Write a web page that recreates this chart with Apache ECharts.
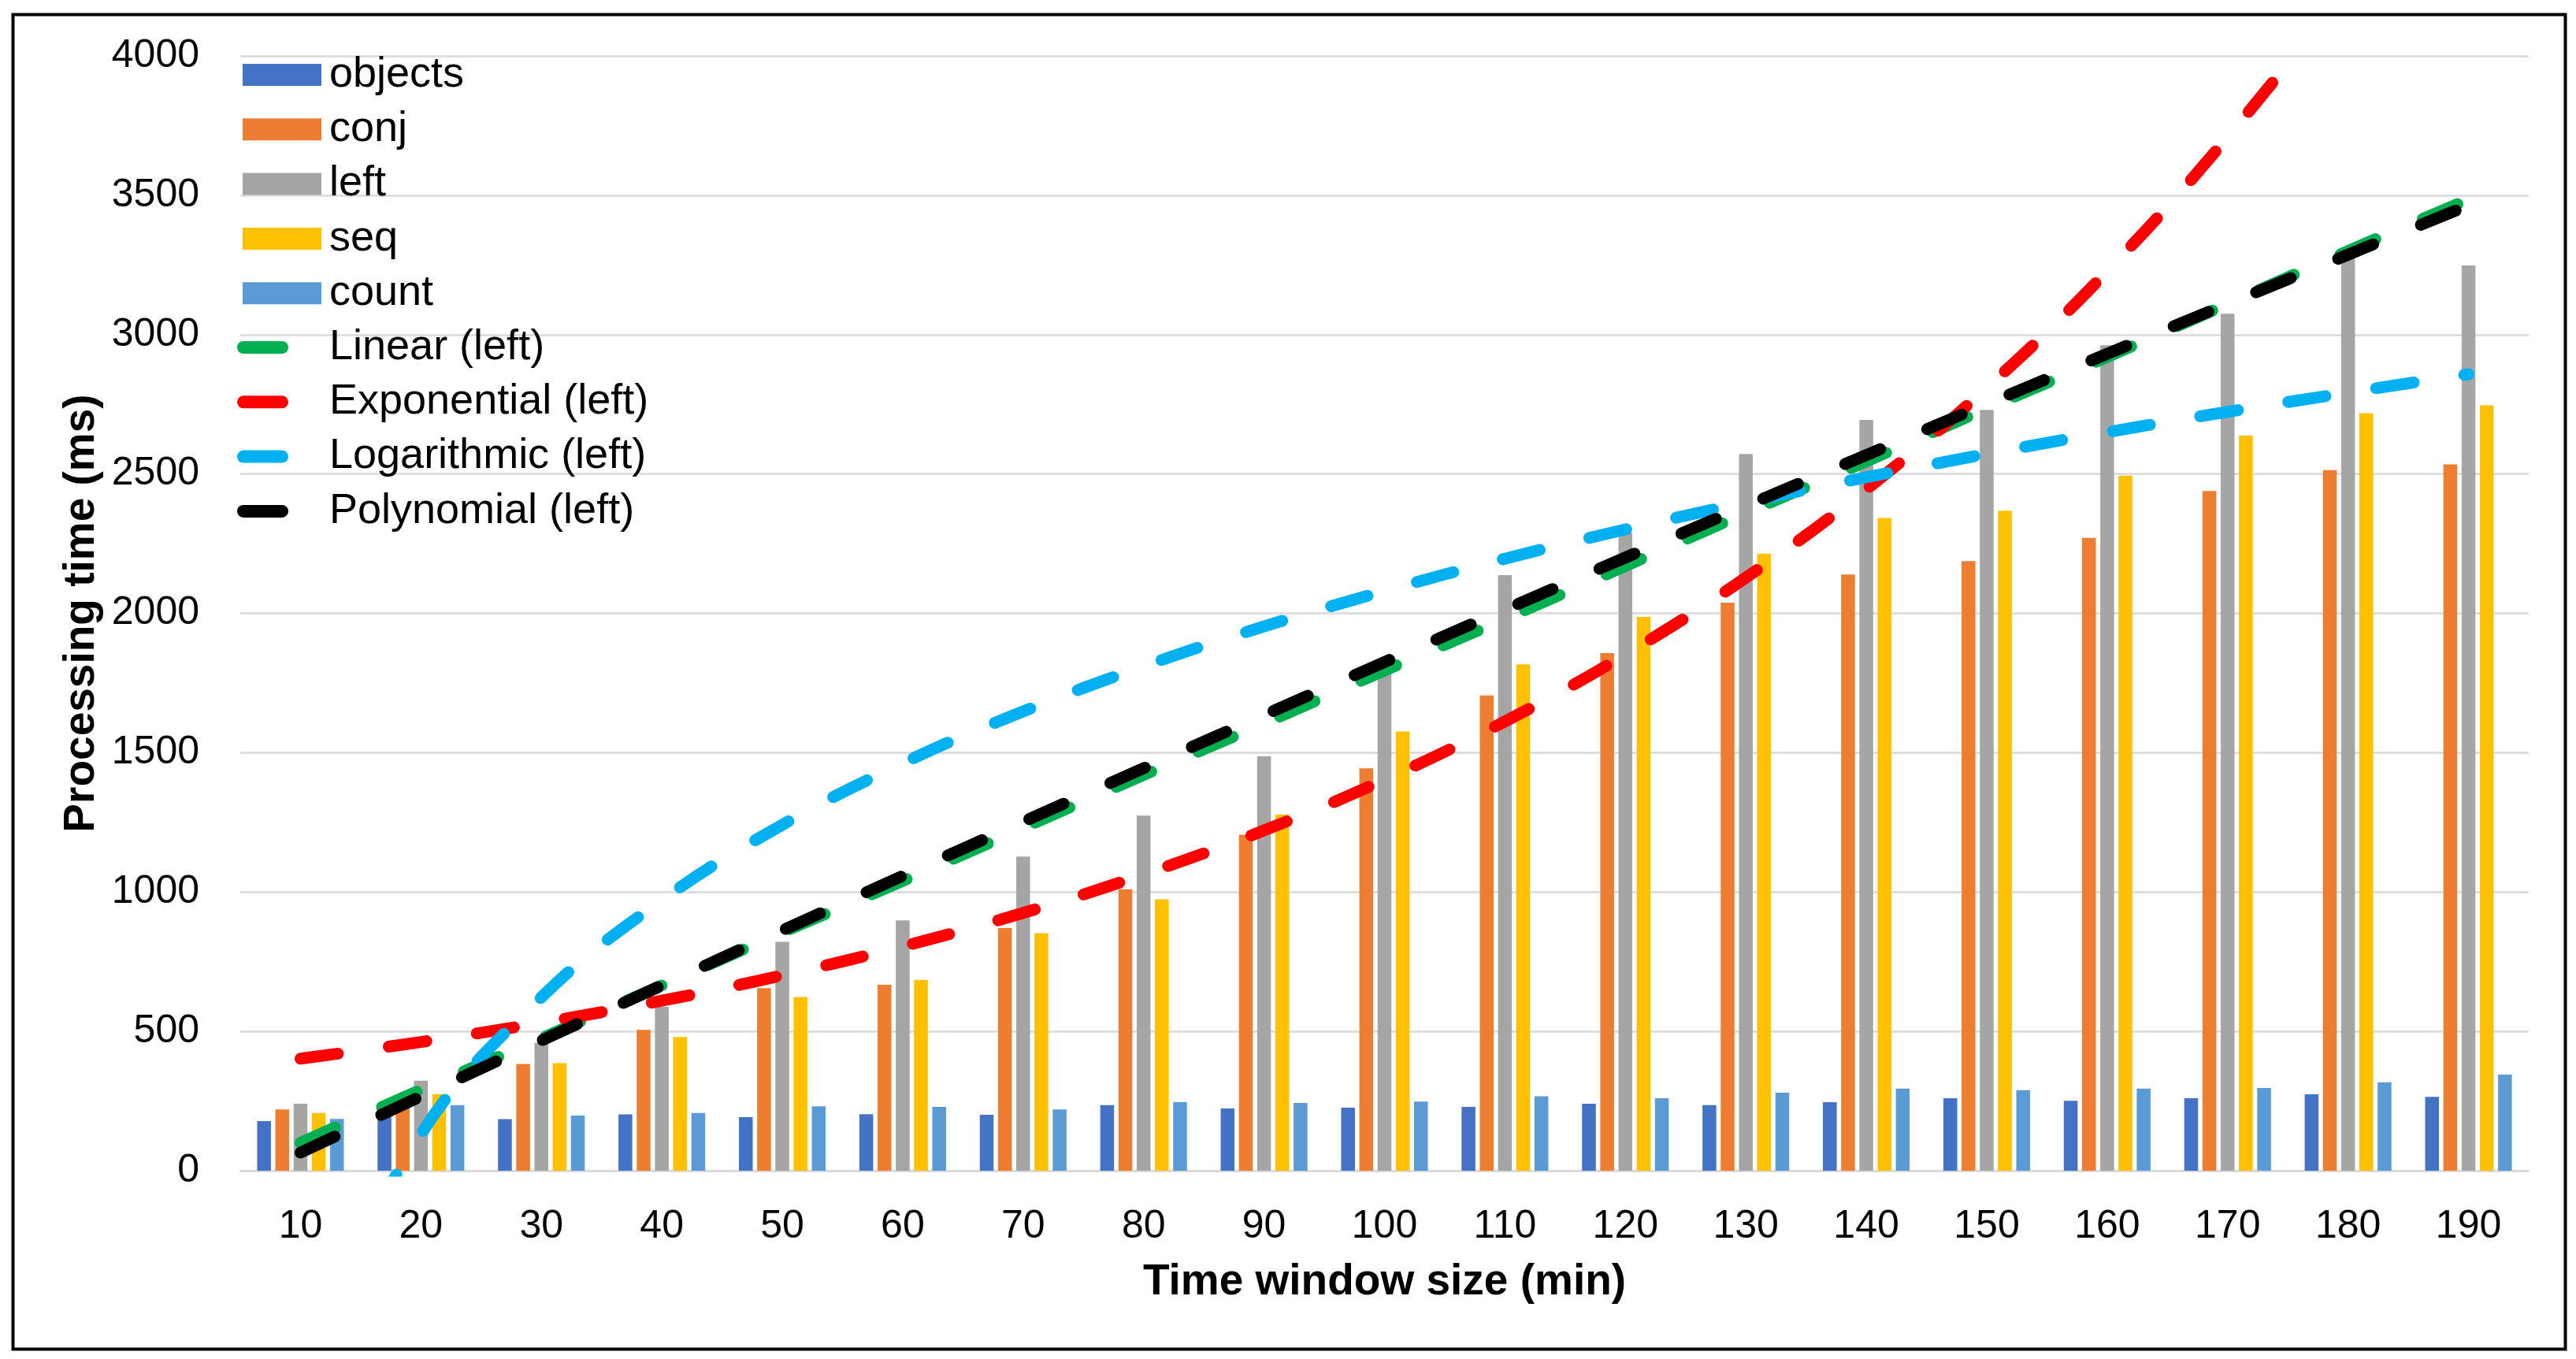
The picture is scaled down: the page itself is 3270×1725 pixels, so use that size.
<!DOCTYPE html>
<html>
<head>
<meta charset="utf-8">
<script src="https://cdn.jsdelivr.net/npm/echarts@6/dist/echarts.min.js"></script>
<style>
html,body{margin:0;padding:0;background:#fff;}
#chart{width:3270px;height:1725px;}
</style>
</head>
<body>
<div id="chart"></div>
<script>
const categories = ['10','20','30','40','50','60','70','80','90','100','110','120','130','140','150','160','170','180','190'];
const yTicks = [0, 500, 1000, 1500, 2000, 2500, 3000, 3500, 4000];

const objects = [178, 205, 185, 202, 192, 203, 201, 235, 223, 226, 229, 240, 235, 246, 260, 251, 260, 274, 265];
const conj    = [220, 245, 383, 505, 655, 667, 871, 1010, 1206, 1444, 1705, 1857, 2038, 2139, 2187, 2271, 2439, 2514, 2534];
const left    = [240, 323, 459, 588, 821, 898, 1127, 1274, 1487, 1785, 2137, 2290, 2572, 2694, 2730, 2962, 3075, 3304, 3248];
const seq     = [207, 275, 386, 480, 623, 685, 852, 974, 1278, 1576, 1817, 1987, 2214, 2342, 2368, 2494, 2638, 2718, 2746];
const count   = [186, 235, 198, 207, 231, 229, 220, 246, 243, 248, 267, 260, 280, 295, 289, 295, 297, 317, 345];

// trendlines of "left", values at each category
const linearLeft = [100, 290, 475, 665, 855, 1040, 1230, 1420, 1605, 1795, 1980, 2170, 2360, 2545, 2735, 2920, 3110, 3300, 3485];
const expLeft    = [402, 462, 531, 610, 701, 805, 925, 1063, 1221, 1403, 1612, 1852, 2128, 2445, 2809, 3228, 3709, 4261, 4895];
const logLeft    = [-708, 131, 622, 971, 1241, 1462, 1648, 1810, 1953, 2080, 2196, 2301, 2398, 2488, 2572, 2650, 2723, 2792, 2858];
const polyLeft   = [65, 267, 467, 665, 862, 1058, 1252, 1444, 1635, 1825, 2013, 2200, 2385, 2568, 2751, 2931, 3110, 3287, 3464];

const FONT = "'Liberation Sans', Arial, sans-serif";
const barColors = {objects:'#4472C4', conj:'#ED7D31', left:'#A5A5A5', seq:'#FFC000', count:'#5B9BD5'};
const lineColors = {'Linear (left)':'#00B050', 'Exponential (left)':'#FF0000', 'Logarithmic (left)':'#00B0F0', 'Polynomial (left)':'#000000'};

const chart = echarts.init(document.getElementById('chart'), null, {renderer:'canvas'});

function barSeries(name, data){
  return {
    name, type:'bar', data,
    barGap:'32%', barCategoryGap:'28%',
    itemStyle:{color:barColors[name]},
    emphasis:{disabled:true}
  };
}
function trendSeries(name, data){
  return {
    name, type:'line', data, smooth:0.4, showSymbol:false, symbol:'none',
    clip:true,
    itemStyle:{color:lineColors[name]},
    lineStyle:{color:lineColors[name], width:15, type:[48,65], cap:'round', join:'round'},
    emphasis:{disabled:true},
    z:3
  };
}
const pill = 'path://M8,0 L57,0 A8,8 0 0 1 57,16 L8,16 A8,8 0 0 1 8,0 Z';

chart.setOption({
  animation:false,
  backgroundColor:'#ffffff',
  textStyle:{fontFamily:FONT},
  grid:{left:305, right:60, top:71, bottom:239, containLabel:false},
  legend:[
    {
      orient:'vertical', left:303, top:62.5,
      itemWidth:100, itemHeight:28, itemGap:14.3,
      icon:'rect',
      selectedMode:false,
      data:['objects','conj','left','seq','count'],
      itemStyle:{borderWidth:0},
      textStyle:{fontSize:54, lineHeight:55, color:'#000', fontFamily:FONT, padding:[0,0,0,5]}
    },
    {
      orient:'vertical', left:296, top:408.5,
      itemWidth:65, itemHeight:16, itemGap:14.3,
      selectedMode:false,
      data:[
        {name:'Linear (left)', icon:pill},
        {name:'Exponential (left)', icon:pill},
        {name:'Logarithmic (left)', icon:pill},
        {name:'Polynomial (left)', icon:pill}
      ],
      itemStyle:{borderWidth:0},
      lineStyle:{width:0},
      textStyle:{fontSize:54, lineHeight:55, color:'#000', fontFamily:FONT, padding:[0,0,0,47]}
    }
  ],
  xAxis:{
    type:'category', data:categories,
    name:'Time window size (min)', nameLocation:'middle', nameGap:114,
    nameTextStyle:{fontSize:55, fontWeight:'bold', color:'#000', fontFamily:FONT},
    axisLine:{show:true, lineStyle:{color:'#d9d9d9', width:2.5}},
    axisTick:{show:false},
    axisLabel:{fontSize:50, color:'#000', margin:46, fontFamily:FONT}
  },
  yAxis:{
    type:'value', min:yTicks[0], max:yTicks[yTicks.length-1], interval:yTicks[1]-yTicks[0],
    name:'Processing time (ms)', nameLocation:'middle', nameGap:168,
    nameTextStyle:{fontSize:55, fontWeight:'bold', color:'#000', fontFamily:FONT},
    axisLine:{show:false}, axisTick:{show:false},
    splitLine:{lineStyle:{color:'#d9d9d9', width:2.5}},
    axisLabel:{fontSize:50, color:'#000', margin:52, fontFamily:FONT, formatter:function(v){return String(v);}}
  },
  graphic:[{
    type:'rect', left:14, top:16, z:-1, silent:true,
    shape:{width:3240, height:1694},
    style:{fill:'none', stroke:'#000', lineWidth:4}
  }],
  series:[
    barSeries('objects', objects),
    barSeries('conj', conj),
    barSeries('left', left),
    barSeries('seq', seq),
    barSeries('count', count),
    trendSeries('Linear (left)', linearLeft),
    trendSeries('Exponential (left)', expLeft),
    trendSeries('Logarithmic (left)', logLeft),
    trendSeries('Polynomial (left)', polyLeft)
  ]
});
</script>
</body>
</html>
